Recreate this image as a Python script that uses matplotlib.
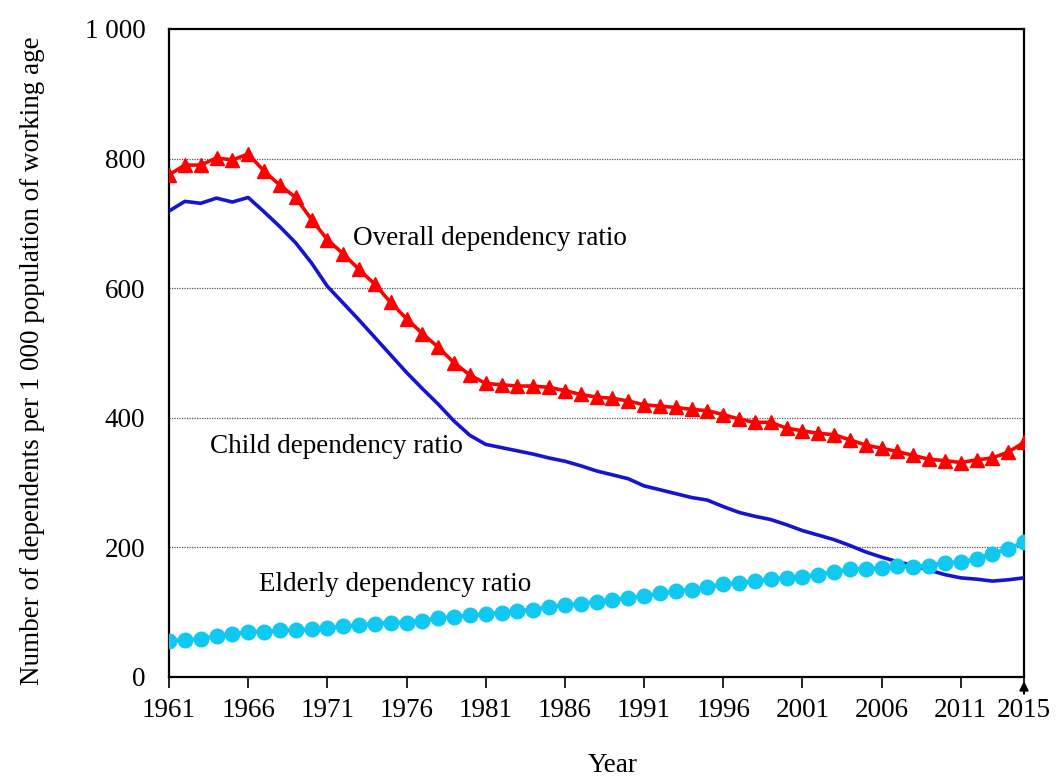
import matplotlib
matplotlib.use("Agg")
import matplotlib.pyplot as plt
from matplotlib.ticker import FuncFormatter

# ---------------------------------------------------------
# DATA (one value per year)
# ---------------------------------------------------------
years = list(range(1961, 2016))

overall = [775, 790, 790, 801, 798, 807, 781, 759, 740, 706,
           675, 653, 629, 606, 578, 553, 530, 509, 485, 466,
           453, 451, 449, 449, 447, 442, 436, 432, 430, 426,
           420, 418, 416, 413, 411, 405, 398, 393, 393, 384,
           380, 376, 374, 366, 358, 353, 348, 342, 336, 334,
           331, 335, 338, 347, 362]

child = [719, 734, 731, 739, 733, 740, 718, 695, 670, 639,
         603, 577, 551, 524, 497, 470, 445, 421, 395, 373,
         359, 354, 349, 344, 338, 333, 326, 318, 312, 306,
         295, 289, 283, 277, 273, 263, 254, 248, 243, 235,
         226, 219, 212, 203, 193, 185, 178, 172, 165, 158,
         153, 151, 148, 150, 153]

elderly = [56, 57, 59, 63, 66, 70, 70, 72, 72, 74,
           76, 78, 80, 82, 84, 84, 87, 91, 93, 95,
           97, 99, 102, 104, 108, 111, 113, 116, 119, 122,
           125, 129, 132, 135, 139, 143, 145, 148, 151, 153,
           155, 158, 162, 166, 167, 168, 171, 170, 172, 176,
           177, 182, 190, 198, 208]

xticks = list(range(1961, 2012, 5)) + [2015]
yticks = [0, 200, 400, 600, 800, 1000]

# ---------------------------------------------------------
# FIGURE
# ---------------------------------------------------------
plt.rcParams['font.family'] = ['Liberation Serif', 'DejaVu Serif']
FS = 19.5

fig = plt.figure(figsize=(10.64, 7.80), dpi=100)
ax = fig.add_axes([169 / 1064, 1 - 677 / 780, (1024 - 169) / 1064, (677 - 29) / 780])

ax.plot(years, child, color='#1414d2', linewidth=2.6, zorder=3)
ax.plot(years, elderly, color='#10c8f0', linewidth=3, marker='o',
        markersize=10.5, zorder=4)
ax.plot(years, overall, color='#ff0000', linewidth=2.6, marker='^',
        markersize=10.5, zorder=5)

ax.set_xlim(1961, 2015)
ax.set_ylim(0, 1000)
ax.set_xticks(xticks)
ax.set_yticks(yticks)
ax.yaxis.set_major_formatter(FuncFormatter(lambda v, p: f"{int(v):,}".replace(",", " ")))

ax.tick_params(axis='x', direction='out', length=8, width=1.2, labelsize=FS, pad=7)
ax.tick_params(axis='y', length=0, labelsize=FS, pad=17)

for s in ax.spines.values():
    s.set_linewidth(1.6)

# dotted gridlines at 200..800
for g in yticks[1:-1]:
    ax.axhline(g, color='#555555', linestyle=(0, (1, 1)), linewidth=0.9, zorder=1)

ax.set_ylabel('Number of dependents per 1 000 population of working age', fontsize=FS)
ax.yaxis.set_label_coords(-0.145, 0.488)
ax.set_xlabel('Year', fontsize=FS)
ax.xaxis.set_label_coords(0.519, -0.118)

# series labels
ax.text(1972.6, 677, 'Overall dependency ratio', fontsize=FS, va='center', ha='left')
ax.text(1963.6, 355, 'Child dependency ratio', fontsize=FS, va='center', ha='left')
ax.text(1966.7, 142, 'Elderly dependency ratio', fontsize=FS, va='center', ha='left')

# small arrow pointing to the last year
ax.annotate('', xy=(1, -0.002), xycoords='axes fraction',
            xytext=(1, -0.03), textcoords='axes fraction',
            arrowprops=dict(arrowstyle='-|>', color='black', lw=1.5,
                            mutation_scale=13))

fig.savefig('out.png', dpi=100, facecolor='white')
